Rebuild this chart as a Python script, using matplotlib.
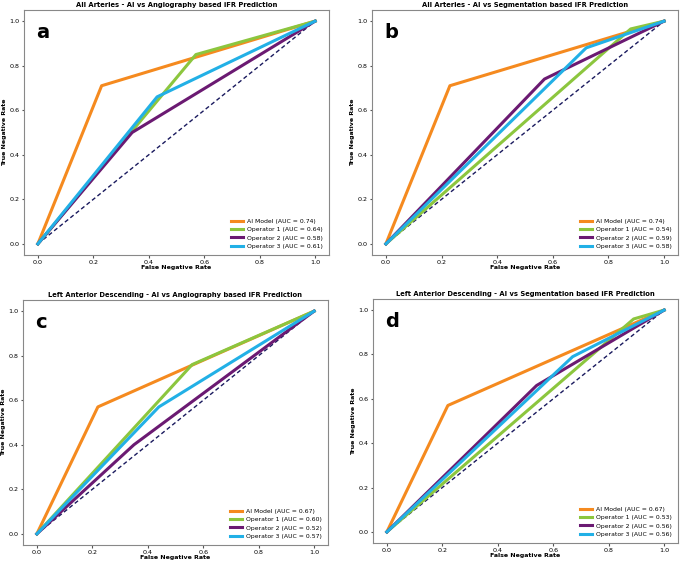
import matplotlib
matplotlib.use("Agg")
import matplotlib.pyplot as plt

# ROC-style operating points (False Negative Rate, True Negative Rate)
titles = [
    "All Arteries - AI vs Angiography based iFR Prediction",
    "All Arteries - AI vs Segmentation based iFR Prediction",
    "Left Anterior Descending - AI vs Angiography based iFR Prediction",
    "Left Anterior Descending - AI vs Segmentation based iFR Prediction",
]
panel_letters = ["a", "b", "c", "d"]
series_names = ["AI Model", "Operator 1", "Operator 2", "Operator 3"]

ai_x = [[0, 0.23, 1], [0, 0.23, 1], [0, 0.22, 1], [0, 0.22, 1]]
ai_y = [[0, 0.71, 1], [0, 0.71, 1], [0, 0.57, 1], [0, 0.57, 1]]
op1_x = [[0, 0.57, 1], [0, 0.88, 1], [0, 0.56, 1], [0, 0.89, 1]]
op1_y = [[0, 0.85, 1], [0, 0.965, 1], [0, 0.76, 1], [0, 0.96, 1]]
op2_x = [[0, 0.34, 1], [0, 0.57, 1], [0, 0.35, 1], [0, 0.54, 1]]
op2_y = [[0, 0.50, 1], [0, 0.74, 1], [0, 0.40, 1], [0, 0.66, 1]]
op3_x = [[0, 0.43, 1], [0, 0.72, 1], [0, 0.44, 1], [0, 0.67, 1]]
op3_y = [[0, 0.66, 1], [0, 0.88, 1], [0, 0.57, 1], [0, 0.79, 1]]

auc_ai = [0.74, 0.74, 0.67, 0.67]
auc_op1 = [0.64, 0.54, 0.60, 0.53]
auc_op2 = [0.58, 0.59, 0.52, 0.56]
auc_op3 = [0.61, 0.58, 0.57, 0.56]

colors = ["#f58a1f", "#8cc63e", "#6b1a72", "#22b0e6"]

W, H = 681, 562
# axes boxes in pixels: left, top, right, bottom
boxes = [(24, 10, 329, 255), (372, 10, 678, 255),
         (23, 300, 328, 545), (373, 299, 678, 543)]

fig = plt.figure(figsize=(W / 100, H / 100), dpi=100)

for i in range(4):
    l, t, r, b = boxes[i]
    ax = fig.add_axes([l / W, 1 - b / H, (r - l) / W, (b - t) / H])
    xs = [ai_x[i], op1_x[i], op2_x[i], op3_x[i]]
    ys = [ai_y[i], op1_y[i], op2_y[i], op3_y[i]]
    aucs = [auc_ai[i], auc_op1[i], auc_op2[i], auc_op3[i]]
    for k in range(4):
        ax.plot(xs[k], ys[k], color=colors[k], lw=2.2,
                label=f"{series_names[k]} (AUC = {aucs[k]:.2f})")
    ax.plot([0, 1], [0, 1], color="#1a1a5e", lw=1.0, ls=(0, (3, 2)), zorder=1)

    ax.set_title(titles[i], fontsize=4.9, fontweight="bold", pad=2.5)
    ax.set_xlabel("False Negative Rate", fontsize=4.5, fontweight="bold", labelpad=0.5)
    ax.set_ylabel("True Negative Rate", fontsize=4.5, fontweight="bold", labelpad=1.5)
    ax.tick_params(labelsize=4.6, length=1.8, pad=1.5, color="#555555")
    for s in ax.spines.values():
        s.set_color("#888888")
        s.set_linewidth(0.8)
    ax.text(0.04, 0.945, panel_letters[i], transform=ax.transAxes,
            fontsize=14, fontweight="bold", va="top", ha="left")
    ax.legend(loc="lower right", fontsize=4.4, frameon=False,
              handlelength=2.1, handletextpad=0.6, labelspacing=0.5,
              borderaxespad=0.6)

fig.savefig("out.png", dpi=100)
